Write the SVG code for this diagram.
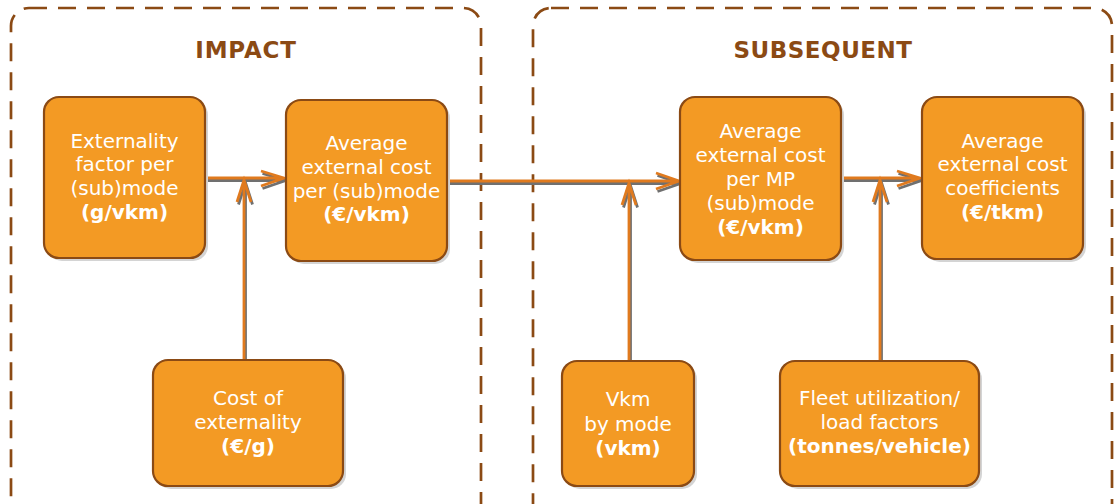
<svg xmlns="http://www.w3.org/2000/svg" width="1114" height="504" viewBox="0 0 1114 504">
<defs>
<style>
.frame{fill:none;stroke:#8B4A14;stroke-width:2.7;stroke-dasharray:18 11}
.title{font-family:"DejaVu Sans",Verdana,sans-serif;font-weight:bold;font-size:23px;fill:#8B4A14;text-anchor:middle}
.node rect.box{fill:#F39A24;stroke:#8B4A14;stroke-width:2.2}
.node rect.sh{fill:#d4d4d4}
.node text{font-family:"DejaVu Sans",Verdana,sans-serif;font-size:20px;fill:#fff;text-anchor:middle}
.ln{fill:none;stroke:#E07A1E;stroke-width:2.8}
.lsh{fill:none;stroke:#707070;stroke-width:2.8}
</style>
</defs>
<rect class="frame" x="11" y="8" width="470" height="520" rx="18"/>
<rect class="frame" x="533" y="8" width="579" height="520" rx="18"/>
<text class="title" x="246" y="58" letter-spacing="0.8">IMPACT</text>
<text class="title" x="823" y="58" letter-spacing="0.5">SUBSEQUENT</text>

<g id="connectors">
<g transform="translate(1.5,2.5)">
<path class="lsh" d="M205 178H284M261 171L284 178L261 186"/>
<path class="lsh" d="M244 360V180M237 202L244 180L251 202"/>
<path class="lsh" d="M447 181H679M656 173L679 181L656 189"/>
<path class="lsh" d="M629 361V183M622 205L629 183L636 205"/>
<path class="lsh" d="M841 178H920M897 171L920 178L897 186"/>
<path class="lsh" d="M880 361V180M873 202L880 180L887 202"/>
</g>
<path class="ln" d="M205 178H284M261 171L284 178L261 186"/>
<path class="ln" d="M244 360V180M237 202L244 180L251 202"/>
<path class="ln" d="M447 181H679M656 173L679 181L656 189"/>
<path class="ln" d="M629 361V183M622 205L629 183L636 205"/>
<path class="ln" d="M841 178H920M897 171L920 178L897 186"/>
<path class="ln" d="M880 361V180M873 202L880 180L887 202"/>
</g>

<g id="n1" class="node">
<rect class="sh" x="47" y="100" width="161" height="161" rx="15"/>
<rect class="box" x="44" y="97" width="161" height="161" rx="15"/>
<text x="124.5" y="148">Externality</text>
<text x="124.5" y="171">factor per</text>
<text x="124.5" y="195">(sub)mode</text>
<text x="124.5" y="219" font-weight="bold">(g/vkm)</text>
</g>
<g id="n2" class="node">
<rect class="sh" x="289" y="103" width="161" height="161" rx="15"/>
<rect class="box" x="286" y="100" width="161" height="161" rx="15"/>
<text x="366.5" y="150">Average</text>
<text x="366.5" y="174">external cost</text>
<text x="366.5" y="198">per (sub)mode</text>
<text x="366.5" y="221" font-weight="bold">(€/vkm)</text>
</g>
<g id="n3" class="node">
<rect class="sh" x="683" y="100" width="161" height="163" rx="15"/>
<rect class="box" x="680" y="97" width="161" height="163" rx="15"/>
<text x="760.5" y="138">Average</text>
<text x="760.5" y="162">external cost</text>
<text x="760.5" y="186">per MP</text>
<text x="760.5" y="210">(sub)mode</text>
<text x="760.5" y="234" font-weight="bold">(€/vkm)</text>
</g>
<g id="n4" class="node">
<rect class="sh" x="925" y="100" width="161" height="162" rx="15"/>
<rect class="box" x="922" y="97" width="161" height="162" rx="15"/>
<text x="1002.5" y="148">Average</text>
<text x="1002.5" y="171">external cost</text>
<text x="1002.5" y="195">coefficients</text>
<text x="1002.5" y="219" font-weight="bold">(€/tkm)</text>
</g>
<g id="n5" class="node">
<rect class="sh" x="156" y="363" width="190" height="126" rx="15"/>
<rect class="box" x="153" y="360" width="190" height="126" rx="15"/>
<text x="248" y="405">Cost of</text>
<text x="248" y="429">externality</text>
<text x="248" y="453" font-weight="bold">(€/g)</text>
</g>
<g id="n6" class="node">
<rect class="sh" x="565" y="364" width="132" height="125" rx="15"/>
<rect class="box" x="562" y="361" width="132" height="125" rx="15"/>
<text x="628" y="406">Vkm</text>
<text x="628" y="431">by mode</text>
<text x="628" y="455" font-weight="bold">(vkm)</text>
</g>
<g id="n7" class="node">
<rect class="sh" x="783" y="364" width="199" height="125" rx="15"/>
<rect class="box" x="780" y="361" width="199" height="125" rx="15"/>
<text x="879.5" y="405">Fleet utilization/</text>
<text x="879.5" y="429">load factors</text>
<text x="879.5" y="453" font-weight="bold">(tonnes/vehicle)</text>
</g>
</svg>
